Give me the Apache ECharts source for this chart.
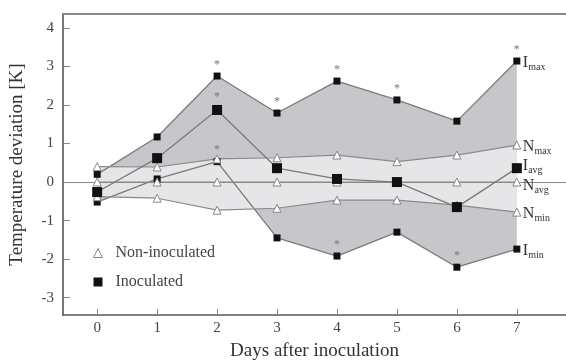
<!DOCTYPE html>
<html>
<head>
<meta charset="utf-8">
<script src="https://cdn.jsdelivr.net/npm/echarts@6/dist/echarts.min.js"></script>
<style>
  html, body { margin: 0; padding: 0; background: #fff; }
  #chart { width: 566px; height: 361px; }
</style>
</head>
<body>
<div id="chart"></div>
<script>
// days after inoculation
var days = [0, 1, 2, 3, 4, 5, 6, 7];
var yTicks = [-3, -2, -1, 0, 1, 2, 3, 4];

// inoculated plants
var iMax = [0.2, 1.17, 2.75, 1.79, 2.62, 2.13, 1.58, 3.14];
var iAvg = [-0.26, 0.62, 1.87, 0.36, 0.08, 0.0, -0.65, 0.36];
var iMin = [-0.52, 0.08, 0.53, -1.45, -1.92, -1.3, -2.21, -1.74];

// non-inoculated plants
var nMax = [0.4, 0.39, 0.6, 0.63, 0.7, 0.53, 0.7, 0.96];
var nAvg = [0, 0, 0, 0, 0, 0, 0, 0];
var nMin = [-0.38, -0.42, -0.73, -0.68, -0.47, -0.47, -0.6, -0.78];

// significance marks (*)
var sigMax = [0, 0, 1, 1, 1, 1, 0, 1];
var sigAvg = [0, 0, 1, 0, 0, 0, 0, 0];
var sigMin = [0, 0, 1, 0, 1, 0, 1, 0];

var serif = '"Liberation Serif", "DejaVu Serif", serif';

function pts(vals, sig) {
    return days.map(function (d, i) {
        var item = { value: [d, vals[i]] };
        if (sig && sig[i]) {
            item.label = {
                show: true, formatter: '*', position: 'top', distance: 2,
                color: '#777', fontSize: 12, fontFamily: serif
            };
        }
        return item;
    });
}

function bandSeries(upper, lower, color, z) {
    return {
        type: 'custom',
        silent: true,
        z: z,
        data: [[0, 0]],
        renderItem: function (params, api) {
            var poly = [];
            for (var i = 0; i < days.length; i++) poly.push(api.coord([days[i], upper[i]]));
            for (var j = days.length - 1; j >= 0; j--) poly.push(api.coord([days[j], lower[j]]));
            return { type: 'polygon', shape: { points: poly }, style: { fill: color } };
        }
    };
}

function endName(main, sub, dy) {
    return {
        show: true,
        distance: 6,
        offset: [0, dy || 0],
        formatter: '{a|' + main + '}{s|' + sub + '}',
        rich: {
            a: { fontFamily: serif, fontSize: 16, color: '#333', lineHeight: 18 },
            s: { fontFamily: serif, fontSize: 10, color: '#333', lineHeight: 18, verticalAlign: 'bottom', padding: [4, 0, 0, 0] }
        }
    };
}

function lineSeries(name, vals, sig, opt) {
    return Object.assign({
        name: name,
        type: 'line',
        data: pts(vals, sig),
        z: 5,
        lineStyle: { color: '#7a7a7a', width: 1.3 },
        emphasis: { disabled: true }
    }, opt);
}

var squareStyle = { symbol: 'rect', symbolSize: 7, itemStyle: { color: '#111' } };
var triStyle = { symbol: 'triangle', symbolSize: 8, itemStyle: { color: '#fff', borderColor: '#888', borderWidth: 1 } };

var chart = echarts.init(document.getElementById('chart'), null, { renderer: 'canvas' });

var option = {
    animation: false,
    grid: { left: 63, right: 0, top: 14, bottom: 46, outerBoundsMode: 'none', containLabel: false },
    legend: {
        orient: 'vertical',
        left: 88,
        top: 240,
        itemGap: 13,
        itemWidth: 9,
        itemHeight: 9,
        selectedMode: false,
        textStyle: { fontFamily: serif, fontSize: 16, color: '#444', padding: [0, 0, 0, 8] },
        data: [
            { name: 'Non-inoculated', icon: 'triangle', itemStyle: { color: '#fff', borderColor: '#888', borderWidth: 1 } },
            { name: 'Inoculated', icon: 'rect', itemStyle: { color: '#111' } }
        ]
    },
    xAxis: [{
        type: 'value',
        min: -0.57,
        max: 7.82,
        name: 'Days after inoculation',
        nameLocation: 'middle',
        nameGap: 27,
        nameTextStyle: { fontFamily: serif, fontSize: 19, color: '#333' },
        axisLine: { show: true, onZero: false, lineStyle: { color: '#555', width: 1.5 } },
        axisTick: { show: true, inside: true, length: 6, customValues: days, lineStyle: { color: '#888' } },
        axisLabel: { customValues: days, margin: 6, fontFamily: serif, fontSize: 15, color: '#444' },
        splitLine: { show: false }
    }, {
        type: 'value',
        position: 'top',
        min: -0.57,
        max: 7.82,
        axisLine: { show: true, onZero: false, lineStyle: { color: '#888', width: 2 } },
        axisTick: { show: false },
        axisLabel: { show: false },
        splitLine: { show: false }
    }],
    yAxis: {
        type: 'value',
        min: -3.45,
        max: 4.36,
        name: 'Temperature deviation [K]',
        nameLocation: 'middle',
        nameGap: 36,
        nameTextStyle: { fontFamily: serif, fontSize: 19, color: '#333' },
        axisLine: { show: true, onZero: false, lineStyle: { color: '#777', width: 2 } },
        axisTick: { show: true, inside: true, length: 7, customValues: yTicks, lineStyle: { color: '#888' } },
        axisLabel: { customValues: yTicks, margin: 9, fontFamily: serif, fontSize: 15, color: '#444' },
        splitLine: { show: false }
    },
    series: [
        bandSeries(iMax, iMin, '#c7c7cb', 1),
        bandSeries(nMax, nMin, '#e6e6e8', 2),
        lineSeries('Imax', iMax, sigMax, Object.assign({ endLabel: endName('I', 'max', 2) }, squareStyle)),
        lineSeries('Iavg', iAvg, sigAvg, {
            name: 'Inoculated', symbol: 'rect', symbolSize: 10, itemStyle: { color: '#111' },
            endLabel: endName('I', 'avg', -2), z: 6
        }),
        lineSeries('Imin', iMin, sigMin, Object.assign({ endLabel: endName('I', 'min', 2) }, squareStyle)),
        lineSeries('Nmax', nMax, null, Object.assign({ endLabel: endName('N', 'max', 2), lineStyle: { color: '#8a8a8a', width: 1.2 } }, triStyle)),
        lineSeries('Non-inoculated', nAvg, null, Object.assign({
            endLabel: endName('N', 'avg', 4),
            lineStyle: { color: '#8a8a8a', width: 1.2 },
            markLine: {
                silent: true, symbol: 'none', label: { show: false },
                lineStyle: { color: '#8a8a8a', width: 1.2, type: 'solid' },
                data: [{ yAxis: 0 }]
            }
        }, triStyle)),
        lineSeries('Nmin', nMin, null, Object.assign({ endLabel: endName('N', 'min', 2), lineStyle: { color: '#8a8a8a', width: 1.2 } }, triStyle))
    ]
};

chart.setOption(option);
</script>
</body>
</html>
